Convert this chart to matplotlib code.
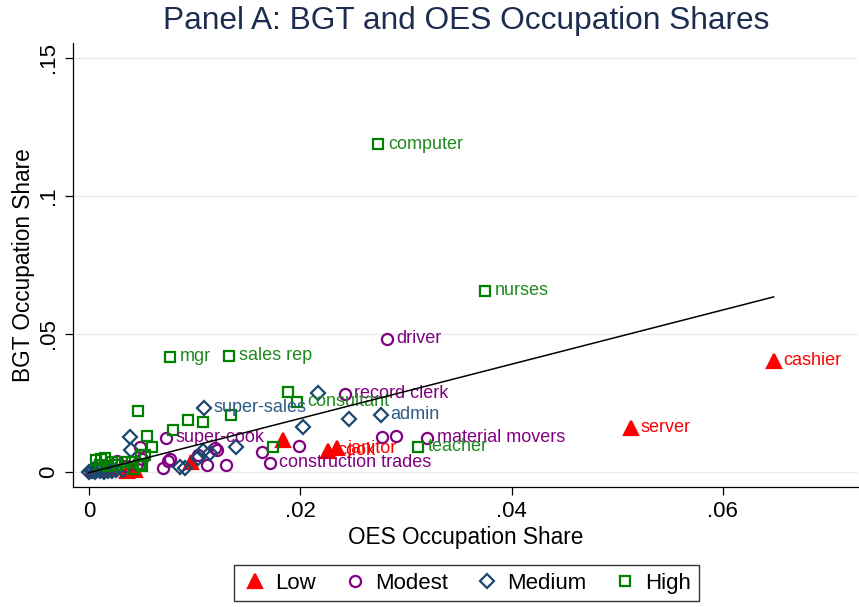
import matplotlib
matplotlib.use("Agg")
import matplotlib.pyplot as plt

plt.rcParams["font.family"] = ["Liberation Sans", "DejaVu Sans"]

# OES share (x), BGT share (y) and labels by group
low_x = [0.0648, 0.0513, 0.0235, 0.0226, 0.0184, 0.0097, 0.0036, 0.0044, 0.0006, 0.0020]
low_y = [0.0402, 0.0159, 0.0085, 0.0077, 0.0116, 0.0037, 0.0002, 0.0008, 0.0015, 0.0010]
low_lab = ["cashier", "server", "janitor", "cook", "", "", "", "", "", ""]

modest_x = [0.0282, 0.0242, 0.0320, 0.0171, 0.0073, 0.0277, 0.0291, 0.0164, 0.0199,
            0.0048, 0.0121, 0.0075, 0.0077, 0.0112, 0.0130, 0.0070, 0.0103, 0.0119,
            0.0027, 0.0045, 0.0012, 0.0002, 0.0035, 0.0050]
modest_y = [0.0482, 0.0283, 0.0123, 0.0033, 0.0123, 0.0127, 0.0130, 0.0073, 0.0094,
            0.0091, 0.0080, 0.0040, 0.0045, 0.0025, 0.0025, 0.0015, 0.0062, 0.0087,
            0.0040, 0.0030, 0.0010, 0.0003, 0.0020, 0.0045]
modest_lab = ["driver", "record clerk", "material movers", "construction trades", "super-cook"] + [""] * 19

medium_x = [0.0109, 0.0276, 0.0217, 0.0203, 0.0246, 0.0039, 0.0040, 0.0108, 0.0139,
            0.0091, 0.0103, 0.0086, 0.0115, 0.0000, 0.0003, 0.0006, 0.0010, 0.0014,
            0.0018, 0.0022, 0.0026, 0.0032, 0.0004, 0.0008]
medium_y = [0.0232, 0.0207, 0.0286, 0.0163, 0.0192, 0.0127, 0.0080, 0.0076, 0.0091,
            0.0015, 0.0050, 0.0018, 0.0069, 0.0000, 0.0002, 0.0001, 0.0003, 0.0001,
            0.0004, 0.0002, 0.0006, 0.0008, 0.0008, 0.0010]
medium_lab = ["super-sales", "admin"] + [""] * 22

high_x = [0.0274, 0.0375, 0.0077, 0.0133, 0.0197, 0.0311, 0.0188, 0.0174, 0.0046,
          0.0134, 0.0094, 0.0108, 0.0080, 0.0055, 0.0060, 0.0049, 0.0007, 0.0011,
          0.0015, 0.0022, 0.0027, 0.0034, 0.0041, 0.0048, 0.0053, 0.0010, 0.0018,
          0.0050, 0.0042]
high_y = [0.1188, 0.0656, 0.0417, 0.0420, 0.0254, 0.0091, 0.0290, 0.0090, 0.0221,
          0.0207, 0.0188, 0.0181, 0.0152, 0.0130, 0.0090, 0.0062, 0.0043, 0.0045,
          0.0050, 0.0036, 0.0025, 0.0036, 0.0036, 0.0030, 0.0062, 0.0025, 0.0020,
          0.0020, 0.0010]
high_lab = ["computer", "nurses", "mgr", "sales rep", "consultant", "teacher"] + [""] * 23

# linear fit endpoints
fit_x = [0.0, 0.0648]
fit_y = [-0.0003, 0.0634]

xticks = [0, 0.02, 0.04, 0.06]
xtick_labels = ["0", ".02", ".04", ".06"]
yticks = [0, 0.05, 0.10, 0.15]
ytick_labels = ["0", ".05", ".1", ".15"]

groups = [
    ("Low", low_x, low_y, low_lab, "^", "#ff0000", True, 9.5),
    ("Modest", modest_x, modest_y, modest_lab, "o", "#800080", False, 8),
    ("Medium", medium_x, medium_y, medium_lab, "D", "#1a476f", False, 7),
    ("High", high_x, high_y, high_lab, "s", "#008000", False, 7.6),
]
label_colors = {"Low": "#ff0000", "Modest": "#800080", "Medium": "#2d5a87", "High": "#1f8a1f"}

fig = plt.figure(figsize=(8.59, 6.07), dpi=100)
ax = fig.add_axes([0.085, 0.198, 0.914, 0.731])

for y in yticks:
    ax.axhline(y, color="#e6eef0", lw=1.0, zorder=0)

for name, xs, ys, labs, mk, col, filled, ms in groups:
    ax.plot(xs, ys, linestyle="none", marker=mk, markersize=ms,
            markerfacecolor=col if filled else "none", markeredgecolor=col,
            markeredgewidth=1.6, label=name, zorder=3)
    for x, y, lab in zip(xs, ys, labs):
        if lab:
            ax.annotate(lab, (x, y), xytext=(7, 0), textcoords="offset points",
                        va="center", ha="left", fontsize=13,
                        color=label_colors[name], zorder=4)

ax.plot(fit_x, fit_y, color="black", lw=1.1, zorder=5)

ax.set_xlim(-0.00151, 0.0728)
ax.set_ylim(-0.00543, 0.1554)
ax.set_xticks(xticks)
ax.set_xticklabels(xtick_labels)
ax.set_yticks(yticks)
ax.set_yticklabels(ytick_labels, rotation=90, va="center")
ax.tick_params(labelsize=16, length=6, width=0.9, pad=4)
for side in ["top", "right"]:
    ax.spines[side].set_visible(False)
for side in ["left", "bottom"]:
    ax.spines[side].set_linewidth(0.9)

ax.set_xlabel("OES Occupation Share", fontsize=16.3, labelpad=3)
ax.set_ylabel("BGT Occupation Share", fontsize=16.3, labelpad=2)

fig.suptitle("Panel A: BGT and OES Occupation Shares", x=0.543, y=0.99,
             fontsize=22.8, color="#1e2d4f")

leg = fig.legend(loc="lower center", bbox_to_anchor=(0.543, 0.0), ncol=4,
                 fontsize=16, frameon=True, fancybox=False, edgecolor="black",
                 handletextpad=0.3, columnspacing=1.15, borderpad=0.35,
                 handlelength=1.2, borderaxespad=0.25)
leg.get_frame().set_linewidth(1.0)

fig.savefig("out.png", dpi=100)
